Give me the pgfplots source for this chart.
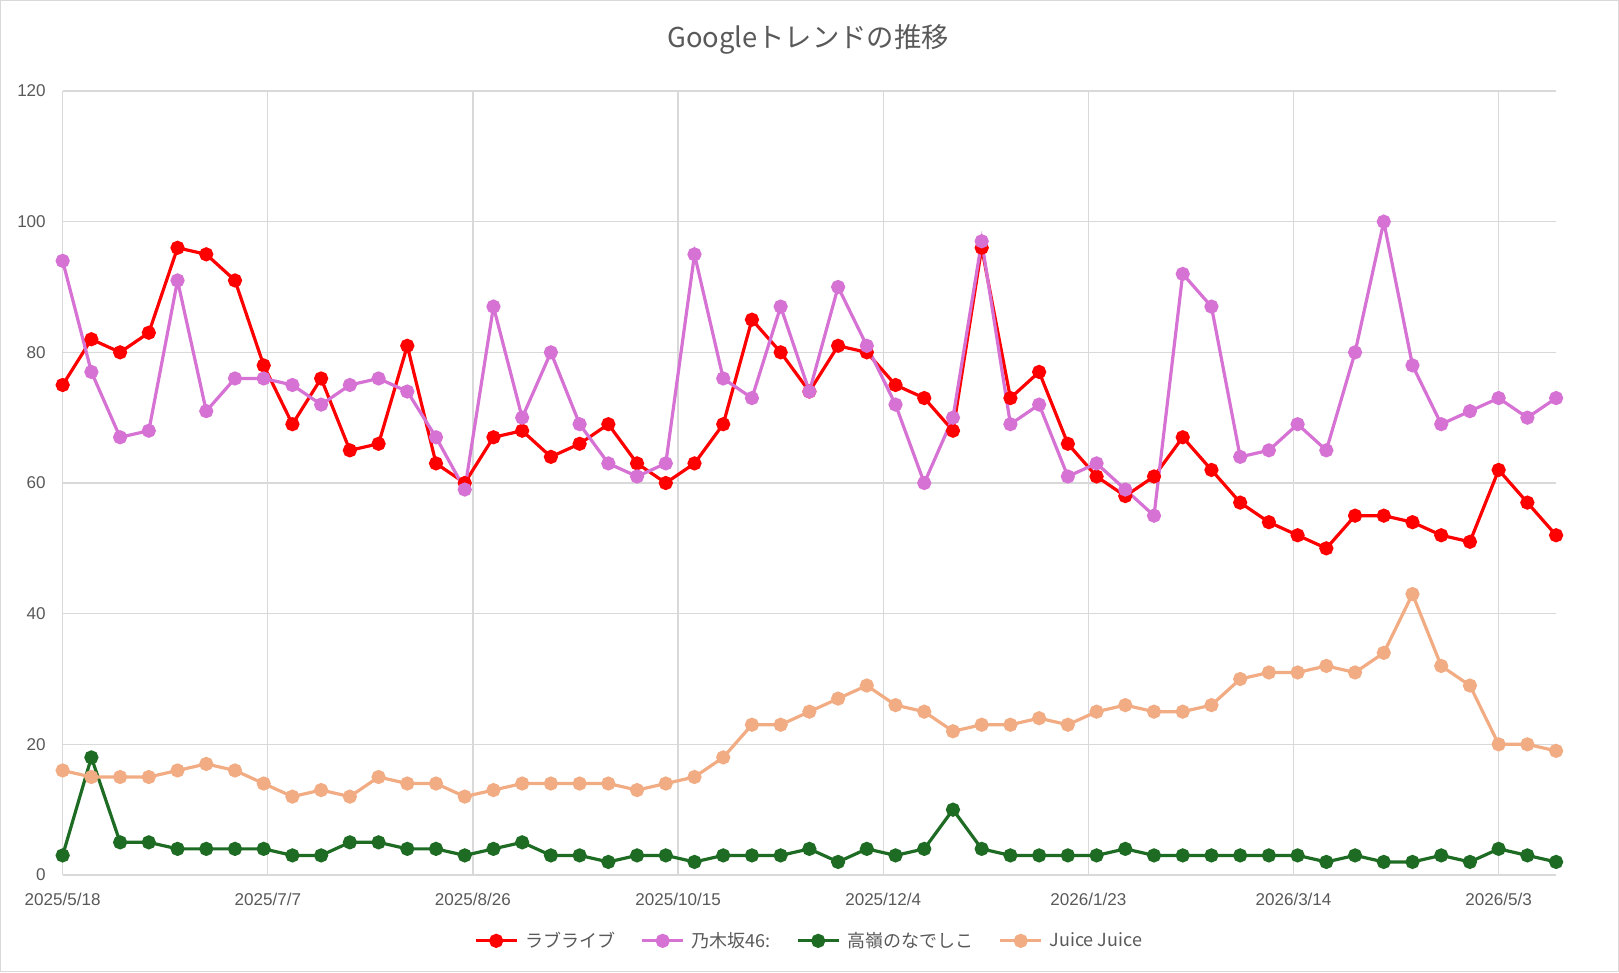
\documentclass[border=0pt]{standalone}
\usepackage{fontspec}
\setmainfont{Noto Sans CJK JP}
\newfontfamily\tickfont{Liberation Sans}
\usepackage{pgfplots}
\usepackage{pgfplotstable}
\pgfplotsset{compat=1.18}

\definecolor{txt}{HTML}{595959}
\definecolor{gridc}{HTML}{D9D9D9}
\definecolor{cLove}{HTML}{FF0000}
\definecolor{cNogi}{HTML}{D672D4}
\definecolor{cTaka}{HTML}{1E6B24}
\definecolor{cJuice}{HTML}{F2AC84}

% day = days since 2025/5/18 (weekly)
\pgfplotstableread{
day love nogi taka juice
0   75 94  3 16
7   82 77 18 15
14  80 67  5 15
21  83 68  5 15
28  96 91  4 16
35  95 71  4 17
42  91 76  4 16
49  78 76  4 14
56  69 75  3 12
63  76 72  3 13
70  65 75  5 12
77  66 76  5 15
84  81 74  4 14
91  63 67  4 14
98  60 59  3 12
105 67 87  4 13
112 68 70  5 14
119 64 80  3 14
126 66 69  3 14
133 69 63  2 14
140 63 61  3 13
147 60 63  3 14
154 63 95  2 15
161 69 76  3 18
168 85 73  3 23
175 80 87  3 23
182 74 74  4 25
189 81 90  2 27
196 80 81  4 29
203 75 72  3 26
210 73 60  4 25
217 68 70 10 22
224 96 97  4 23
231 73 69  3 23
238 77 72  3 24
245 66 61  3 23
252 61 63  3 25
259 58 59  4 26
266 61 55  3 25
273 67 92  3 25
280 62 87  3 26
287 57 64  3 30
294 54 65  3 31
301 52 69  3 31
308 50 65  2 32
315 55 80  3 31
322 55 100 2 34
329 54 78  2 43
336 52 69  3 32
343 51 71  2 29
350 62 73  4 20
357 57 70  3 20
364 52 73  2 19
}\trend

\begin{document}
\begin{tikzpicture}
\path[use as bounding box] (-47pt,-72.75pt) rectangle (1167.25pt,656.25pt);
\draw[gridc, line width=1pt] (-46.5pt,-72.25pt) rectangle (1166.75pt,655.75pt);
\node[txt, font=\fontsize{20.5}{24}\selectfont] at (559pt,627pt) {Googleトレンドの推移};
\begin{axis}[
  at={(0,0)}, anchor=south west,
  scale only axis,
  width=1120pt, height=588pt,
  xmin=0, xmax=364,
  ymin=0, ymax=120,
  xtick={0,50,...,350},
  xticklabels={2025/5/18,2025/7/7,2025/8/26,2025/10/15,2025/12/4,2026/1/23,2026/3/14,2026/5/3},
  ytick={0,20,...,120},
  axis x line*=bottom,
  axis y line*=left,
  axis line style={gridc, line width=1.2pt},
  major tick length=0pt,
  grid=major,
  major grid style={gridc, line width=1pt},
  /pgf/number format/assume math mode=true,
  ticklabel style={txt, font=\tickfont\fontsize{12.8}{15}\selectfont, inner sep=0pt},
  xticklabel style={anchor=center, yshift=-18pt},
  yticklabel style={anchor=east, xshift=-12.5pt},
  every axis plot/.append style={line width=2.4pt, mark=*, mark size=4.1pt, mark options={solid}},
  legend columns=-1,
  legend style={draw=none, fill=none, at={(0.5,-0.084)}, anchor=center,
    font=\fontsize{13.5}{16}\selectfont, text=txt,
    /tikz/every even column/.append style={column sep=17pt},
    /tikz/every odd column/.append style={column sep=3pt}},
  legend image code/.code={%
    \draw[mark repeat=2, mark phase=2, #1] plot coordinates {(0pt,0pt) (15.5pt,0pt) (31pt,0pt)};},
]
\addplot[cLove] table[x=day, y=love] {\trend};
\addplot[cNogi] table[x=day, y=nogi] {\trend};
\addplot[cTaka] table[x=day, y=taka] {\trend};
\addplot[cJuice] table[x=day, y=juice] {\trend};
\legend{ラブライブ, 乃木坂46:, 高嶺のなでしこ, Juice Juice}
\end{axis}
\end{tikzpicture}
\end{document}
